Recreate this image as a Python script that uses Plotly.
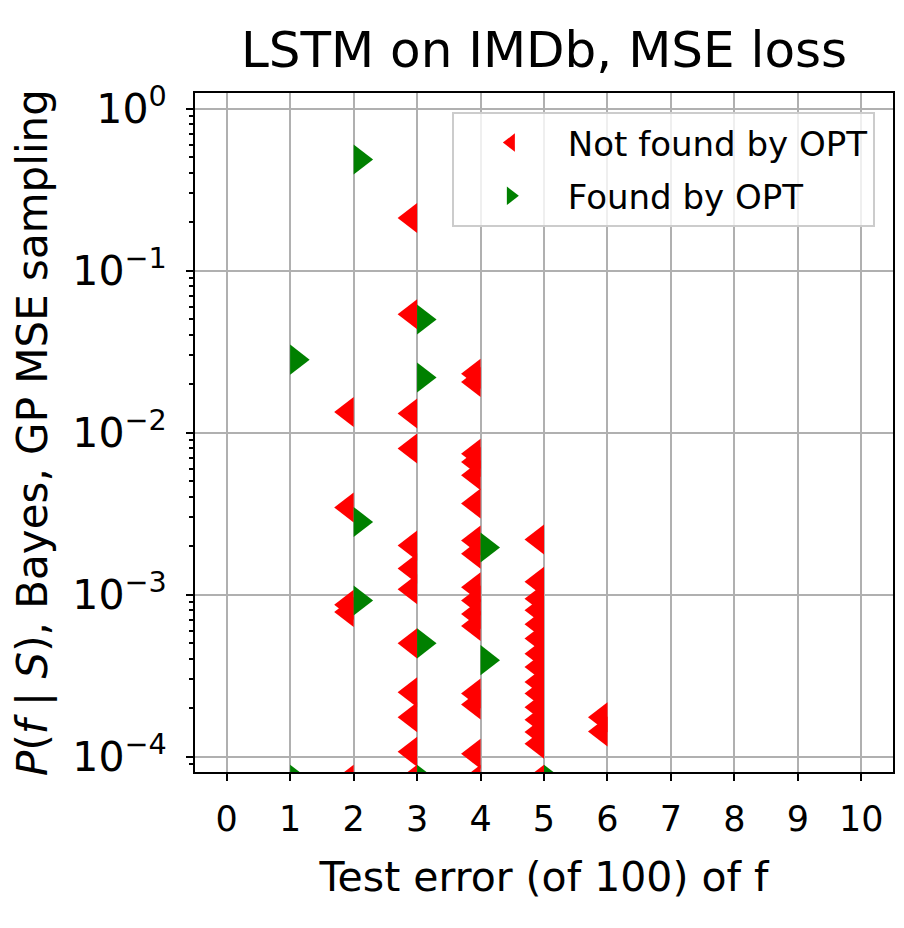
import plotly.graph_objects as go

# Test error (of 100) and P(f|S) of functions, split by whether OPT found them
not_found_err = [2, 2, 2, 2, 2,
                 3, 3, 3, 3, 3, 3, 3, 3, 3, 3, 3, 3,
                 4, 4, 4, 4, 4, 4, 4, 4, 4, 4, 4, 4, 4, 4, 4, 4,
                 5, 5, 5, 5, 5, 5, 5, 5, 5, 5, 5, 5, 5, 5, 5,
                 6, 6]
not_found_p = [0.0134, 0.00345, 0.000867, 0.000781, 7.2e-5,
               0.211, 0.0537, 0.0131, 0.00797, 0.00201, 0.00145, 0.00108, 0.0005, 0.00025, 0.000175, 0.000107, 7.2e-5,
               0.0231, 0.0205, 0.00741, 0.00658, 0.00545, 0.00365, 0.00216, 0.00179, 0.00111, 0.00092, 0.00076, 0.00064,
               0.000245, 0.00021, 0.000104, 7.2e-5,
               0.00219, 0.0012, 0.000944, 0.0008, 0.000656, 0.000535, 0.000432, 0.000357, 0.000289, 0.000245,
               0.000202, 0.000169, 0.000142, 0.00012, 7.2e-5,
               0.000175, 0.000143]

found_err = [1, 1, 2, 2, 2, 3, 3, 3, 3, 4, 4, 5]
found_p = [0.0282, 7.2e-5, 0.484, 0.00281, 0.000918, 0.0499, 0.0219, 0.0005, 7.2e-5, 0.00195, 0.000394, 7.2e-5]

decades = [0, -1, -2, -3, -4]
ytick_vals = [10.0 ** d for d in decades]
ytick_text = ["10<sup>%s</sup>" % str(d).replace("-", "\u2212") for d in decades]

# half-marker shift so the flat side of each triangle sits on the integer
shift = 0.102
msize = 26

fig = go.Figure()
fig.add_trace(go.Scatter(x=[e - shift for e in not_found_err], y=not_found_p, mode="markers",
                         name="Not found by OPT", legendgroup="nf",
                         marker=dict(symbol="triangle-left", size=msize, color="#ff0000", line=dict(width=0))))
fig.add_trace(go.Scatter(x=[e + shift for e in found_err], y=found_p, mode="markers",
                         name="Found by OPT", legendgroup="f",
                         marker=dict(symbol="triangle-right", size=msize, color="#008000", line=dict(width=0))))

axis_style = dict(showline=True, linecolor="black", linewidth=2, mirror=True,
                  ticks="outside", ticklen=7, tickwidth=2, tickcolor="black",
                  showgrid=True, gridcolor="#b0b0b0", gridwidth=2, zeroline=False,
                  layer="above traces", automargin=False,
                  title_font=dict(size=41, color="black"))

# the page adds an 8px body margin, so the figure is laid out 8px up/left of the target
fig.update_layout(
    width=904, height=928,
    margin=dict(l=187, r=19, t=85, b=164),
    paper_bgcolor="white", plot_bgcolor="white",
    font=dict(family="DejaVu Sans", color="black"),
    title=dict(text="LSTM on IMDb, MSE loss", font=dict(size=50, color="black"),
               x=536 / 904, xanchor="center", y=1 - 41 / 928, yanchor="middle", automargin=False),
    legend=dict(x=0.974, y=0.972, xanchor="right", yanchor="top",
                bgcolor="rgba(255,255,255,0.8)", bordercolor="#cccccc", borderwidth=2,
                font=dict(size=34), itemwidth=104, tracegroupgap=6),
)
fig.update_xaxes(axis_style, range=[-0.5, 10.5], tickmode="linear", tick0=0, dtick=1,
                 tickfont=dict(size=35, color="black"), ticklabelstandoff=8,
                 title_text="Test error (of 100) of f", title_standoff=24)
fig.update_yaxes(axis_style, type="log", range=[-4.095, 0.096],
                 tickmode="array", tickvals=ytick_vals, ticktext=ytick_text,
                 tickfont=dict(size=41, color="black"), ticklabelstandoff=11,
                 minor=dict(ticks="outside", ticklen=4, tickwidth=1.5, tickcolor="black",
                            dtick="D1", showgrid=False),
                 title_text="<i>P</i>(<i>f</i> | <i>S</i>), Bayes, GP MSE sampling",
                 title_font_size=42, title_standoff=22)

fig.write_html("out.html")
